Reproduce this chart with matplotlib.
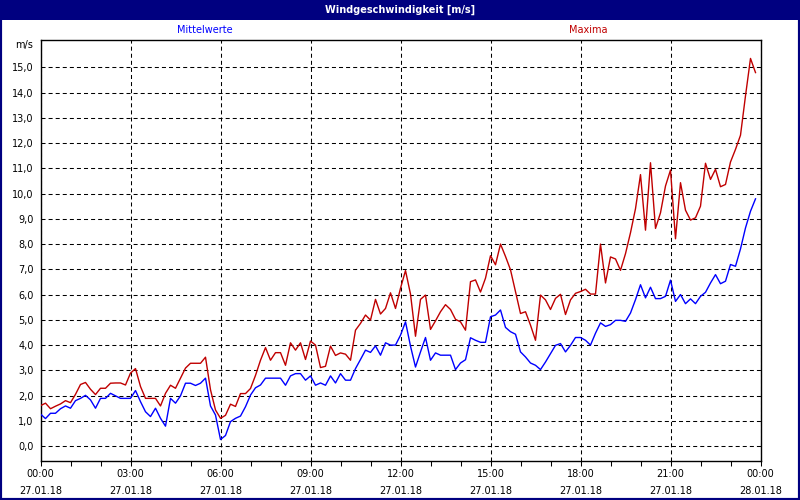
import numpy as np
import pandas as pd
import matplotlib
matplotlib.use('Agg')
import matplotlib.pyplot as plt
import matplotlib.dates as mdates
from matplotlib.patches import Rectangle
from matplotlib.ticker import FuncFormatter

plt.rcParams['font.family'] = ['DejaVu Sans']
plt.rcParams['lines.scale_dashes'] = False

title = 'Windgeschwindigkeit [m/s]'
label_mean = 'Mittelwerte'
label_max = 'Maxima'

# 10-minute values, 27.01.18 00:00 .. 23:50
times = pd.date_range('2018-01-27 00:00', periods=144, freq='10min')

maxima = [1.60, 1.70, 1.48, 1.58, 1.67, 1.80, 1.72, 2.05, 2.44, 2.52,
          2.25, 2.04, 2.29, 2.29, 2.49, 2.50, 2.50, 2.42, 2.89, 3.07,
          2.36, 1.89, 1.89, 1.89, 1.59, 2.09, 2.41, 2.29, 2.69, 3.09,
          3.28, 3.28, 3.28, 3.52, 2.23, 1.43, 1.10, 1.22, 1.66, 1.57,
          2.08, 2.08, 2.28, 2.80, 3.40, 3.90, 3.40, 3.70, 3.70, 3.20,
          4.09, 3.80, 4.09, 3.43, 4.16, 4.00, 3.11, 3.16, 3.96, 3.59,
          3.69, 3.64, 3.40, 4.59, 4.86, 5.19, 4.99, 5.81, 5.23, 5.45,
          6.07, 5.45, 6.25, 6.95, 6.02, 4.35, 5.81, 5.98, 4.62, 4.96,
          5.32, 5.60, 5.41, 5.02, 4.92, 4.59, 6.51, 6.58, 6.10, 6.65,
          7.54, 7.18, 8.00, 7.51, 6.98, 6.12, 5.25, 5.32, 4.79, 4.19,
          5.98, 5.79, 5.41, 5.85, 6.01, 5.21, 5.79, 6.05, 6.12, 6.21,
          6.02, 6.02, 8.00, 6.46, 7.49, 7.41, 6.96, 7.62, 8.45, 9.40,
          10.75, 8.55, 11.22, 8.62, 9.24, 10.30, 10.93, 8.21, 10.43, 9.34,
          8.95, 9.04, 9.50, 11.20, 10.56, 10.96, 10.27, 10.36, 11.25, 11.75,
          12.31, 13.87, 15.35, 14.79]

mittel = [1.27, 1.09, 1.30, 1.30, 1.48, 1.59, 1.50, 1.80, 1.89, 2.01,
          1.83, 1.50, 1.89, 1.89, 2.09, 1.99, 1.89, 1.89, 1.89, 2.20,
          1.76, 1.36, 1.17, 1.50, 1.10, 0.79, 1.89, 1.70, 1.99, 2.49,
          2.49, 2.40, 2.49, 2.69, 1.59, 1.23, 0.26, 0.42, 0.97, 1.10,
          1.19, 1.56, 2.02, 2.31, 2.42, 2.69, 2.69, 2.69, 2.69, 2.41,
          2.78, 2.87, 2.87, 2.61, 2.78, 2.41, 2.50, 2.41, 2.78, 2.50,
          2.87, 2.61, 2.61, 3.07, 3.43, 3.80, 3.71, 3.97, 3.60, 4.09,
          4.00, 4.00, 4.39, 4.92, 3.96, 3.13, 3.73, 4.30, 3.40, 3.69,
          3.60, 3.60, 3.60, 3.03, 3.29, 3.42, 4.29, 4.19, 4.11, 4.11,
          5.12, 5.19, 5.39, 4.70, 4.53, 4.43, 3.73, 3.53, 3.29, 3.20,
          3.03, 3.33, 3.66, 3.99, 4.06, 3.73, 3.99, 4.30, 4.30, 4.19,
          4.00, 4.47, 4.88, 4.74, 4.81, 4.98, 4.98, 4.94, 5.27, 5.80,
          6.39, 5.87, 6.29, 5.84, 5.84, 5.93, 6.57, 5.73, 6.00, 5.64,
          5.83, 5.64, 5.93, 6.09, 6.46, 6.79, 6.43, 6.53, 7.19, 7.12,
          7.81, 8.64, 9.30, 9.79]

navy = '#000080'
blue = '#0000FF'
red = '#C00000'

fig = plt.figure(figsize=(8, 5), dpi=100)
ax = fig.add_axes([40.5/800, 1-460.5/500, 720/800, 420.5/500])

ax.plot(times, maxima, color=red, lw=1, zorder=3)
ax.plot(times, mittel, color=blue, lw=1, zorder=3)

ax.set_xlim(pd.Timestamp('2018-01-27 00:00'), pd.Timestamp('2018-01-28 00:00'))
ax.set_ylim(-0.57, 16.08)
ax.set_yticks(range(0, 16))
ax.yaxis.set_major_formatter(FuncFormatter(lambda v, p: f'{v:.1f}'.replace('.', ',')))

ax.xaxis.set_major_locator(mdates.HourLocator(byhour=range(0, 24, 3)))
ax.xaxis.set_minor_locator(mdates.HourLocator())
ax.xaxis.set_major_formatter(mdates.DateFormatter('%H:%M\n%d.%m.%y'))

grid_style = dict(color='black', lw=0.75, linestyle=(0, (2.9, 2.2)))
ax.grid(True, which='major', axis='both', **grid_style)

ax.tick_params(axis='x', which='both', direction='out', length=3.5, width=0.75,
               labelsize=7, pad=2.5, colors='black')
ax.tick_params(axis='y', which='both', length=0, labelsize=7, pad=5)
for lbl in ax.get_xticklabels():
    lbl.set_linespacing(1.85)
for s in ax.spines.values():
    s.set_linewidth(1.0)
    s.set_color('black')

# title bar and frame
fig.patches.append(Rectangle((0, 1-20/500), 1, 20/500, transform=fig.transFigure,
                             facecolor=navy, edgecolor='none', zorder=0))
fig.patches.append(Rectangle((0, 0), 1, 1, transform=fig.transFigure,
                             fill=False, edgecolor=navy, lw=3, zorder=5))
fig.text(0.5, 1-10/500, title, color='white', fontsize=7, fontweight='bold',
         ha='center', va='center')
fig.text(205/800, 1-30/500, label_mean, color=blue, fontsize=7, ha='center', va='center')
fig.text(588/800, 1-30/500, label_max, color=red, fontsize=7, ha='center', va='center')
fig.text(24/800, 1-45/500, 'm/s', color='black', fontsize=7, ha='center', va='center')

fig.savefig('out.png', dpi=100)
